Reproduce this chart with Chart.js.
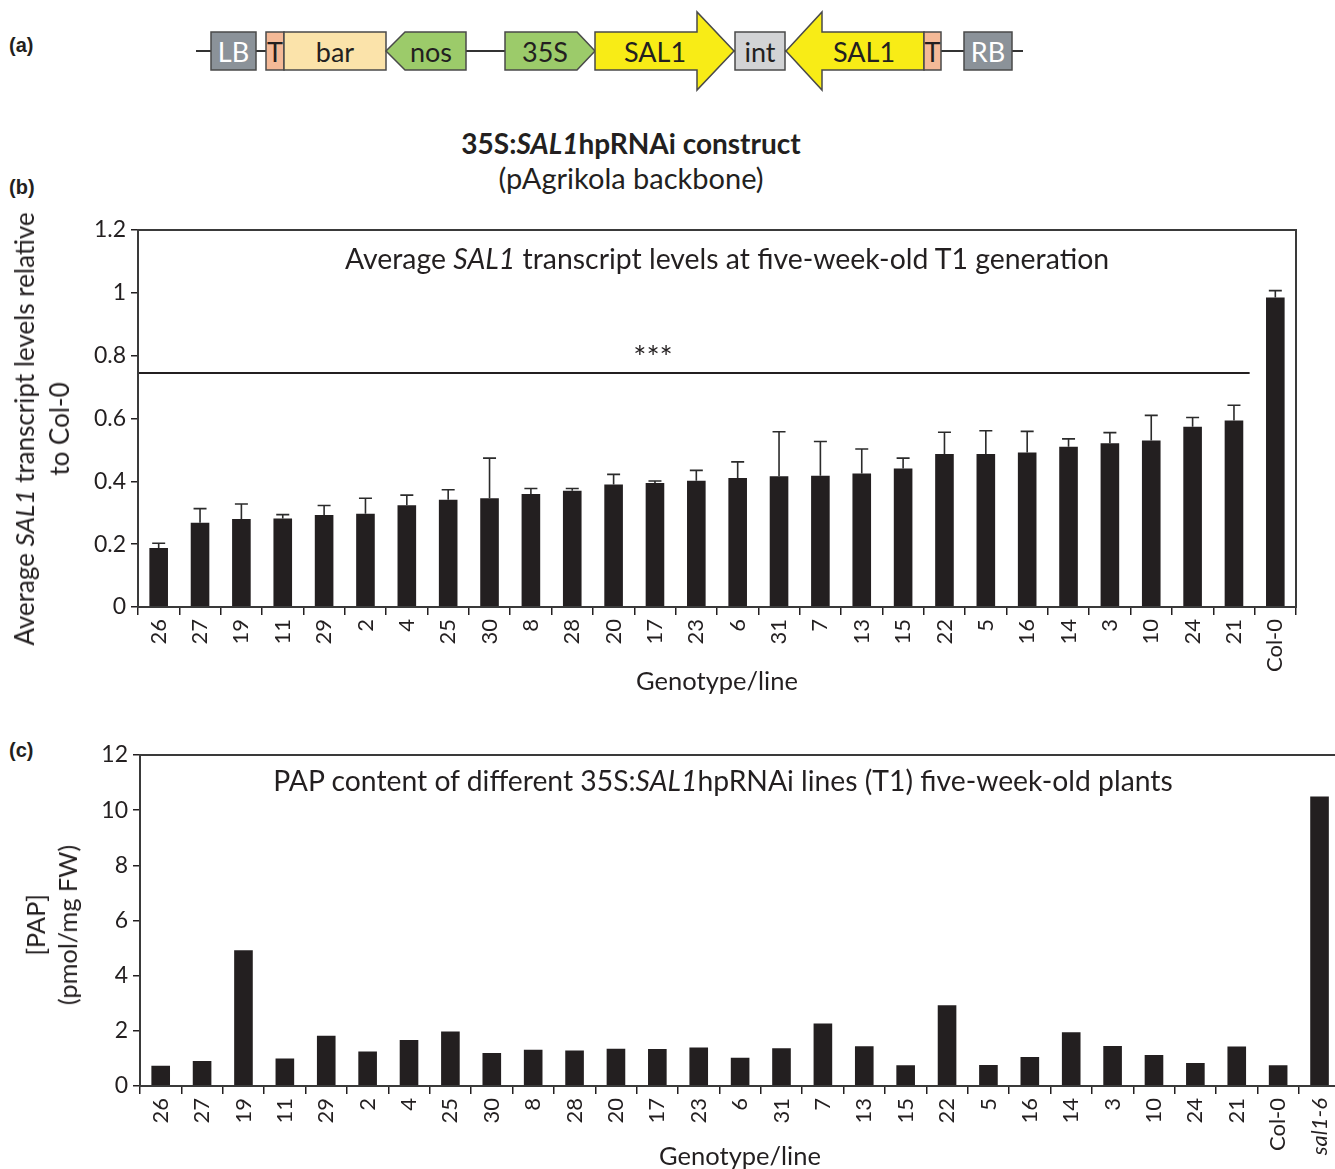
<!DOCTYPE html>
<html>
<head>
<meta charset="utf-8">
<script src="https://cdn.jsdelivr.net/npm/chart.js@4/dist/chart.umd.min.js"></script>
<style>
  html, body { margin: 0; padding: 0; width: 1335px; height: 1169px; overflow: hidden; background: #fff; }
  body { position: relative; font-family: 'Lato', 'Open Sans', sans-serif; color: #231f20; }
  .abs { position: absolute; white-space: nowrap; line-height: 1; }
  .c { transform: translate(-50%, -50%); }
  .rot { transform: translate(-50%, -50%) rotate(-90deg); text-align: center; }
  .panel { font-weight: bold; font-size: 20px; font-family: 'Liberation Sans', Arial, sans-serif; }
  #wrapB { position: absolute; left: 0; top: 200px; width: 1335px; height: 510px; }
  #wrapC { position: absolute; left: 0; top: 730px; width: 1350px; height: 439px; }
</style>
</head>
<body>

<!-- (a) construct map -->
<svg class="abs" style="left:0;top:0" width="1335" height="110" font-family="Lato, 'Open Sans', sans-serif" font-size="27">
  <line x1="196" y1="51" x2="1023" y2="51" stroke="#333" stroke-width="2"/>
  <rect x="211" y="32" width="45" height="38" fill="#8b9299" stroke="#4a4a4a" stroke-width="1.5"/>
  <rect x="266" y="32" width="18" height="38" fill="#f4b997" stroke="#4a4a4a" stroke-width="1.5"/>
  <rect x="284" y="32" width="102" height="38" fill="#fbe3aa" stroke="#4a4a4a" stroke-width="1.5"/>
  <polygon points="386,51 405,32 466,32 466,70 405,70" fill="#9ccb6a" stroke="#4a4a4a" stroke-width="1.5"/>
  <polygon points="505,32 577,32 595,51 577,70 505,70" fill="#9ccb6a" stroke="#4a4a4a" stroke-width="1.5"/>
  <polygon points="595,32 697,32 697,12 734,51 697,90 697,70 595,70" fill="#f8ec16" stroke="#4a4a4a" stroke-width="1.5"/>
  <rect x="735" y="32" width="50" height="38" fill="#d2d3d5" stroke="#4a4a4a" stroke-width="1.5"/>
  <polygon points="786,51 822,12 822,32 924,32 924,70 822,70 822,90" fill="#f8ec16" stroke="#4a4a4a" stroke-width="1.5"/>
  <rect x="924" y="32" width="17" height="38" fill="#f4b997" stroke="#4a4a4a" stroke-width="1.5"/>
  <rect x="964" y="32" width="48" height="38" fill="#8b9299" stroke="#4a4a4a" stroke-width="1.5"/>
  <g text-anchor="middle" dominant-baseline="central" fill="#231f20">
    <text x="233.5" y="51" fill="#fff">LB</text>
    <text x="275" y="51">T</text>
    <text x="335" y="51">bar</text>
    <text x="431" y="51">nos</text>
    <text x="545" y="51">35S</text>
    <text x="655" y="51">SAL1</text>
    <text x="760" y="51">int</text>
    <text x="864" y="51">SAL1</text>
    <text x="932.5" y="51">T</text>
    <text x="988" y="51" fill="#fff">RB</text>
  </g>
</svg>

<div class="abs panel" style="left:9px;top:35px">(a)</div>
<div class="abs panel" style="left:9px;top:177px">(b)</div>
<div class="abs panel" style="left:9px;top:740px">(c)</div>

<div class="abs c" style="left:631px;top:143px;font-size:28px;font-weight:bold">35S:<i>SAL1</i>hpRNAi construct</div>
<div class="abs c" style="left:631px;top:177px;font-size:29px">(pAgrikola backbone)</div>

<div id="wrapB"><canvas id="chartB"></canvas></div>
<div id="wrapC"><canvas id="chartC"></canvas></div>

<!-- panel (b) text -->
<div class="abs c" style="left:727px;top:258px;font-size:28.4px">Average <i>SAL1</i> transcript levels at five-week-old T1 generation</div>
<div class="abs rot" style="left:42px;top:429px;font-size:26px;line-height:35px">Average <i>SAL1</i> transcript levels relative<br>to Col-0</div>
<div class="abs c" style="left:717px;top:681px;font-size:25.5px">Genotype/line</div>

<!-- panel (c) text -->
<div class="abs c" style="left:723px;top:780px;font-size:28.3px">PAP content of different 35S:<i>SAL1</i>hpRNAi lines (T1) five-week-old plants</div>
<div class="abs rot" style="left:51px;top:925px;font-size:25.3px;line-height:32px">[PAP]<br>(pmol/mg FW)</div>
<div class="abs c" style="left:740px;top:1156px;font-size:25.5px">Genotype/line</div>

<script>
// ---- panel (b): SAL1 transcript levels relative to Col-0 ----
const linesB = ['26','27','19','11','29','2','4','25','30','8','28','20','17','23','6','31','7','13','15','22','5','16','14','3','10','24','21','Col-0'];
const sal1Level = [0.188,0.268,0.280,0.282,0.293,0.297,0.324,0.341,0.346,0.360,0.370,0.390,0.395,0.402,0.411,0.416,0.418,0.425,0.441,0.487,0.487,0.492,0.510,0.521,0.530,0.574,0.594,0.985];
const sal1Err   = [0.015,0.045,0.048,0.012,0.030,0.049,0.032,0.032,0.128,0.017,0.007,0.032,0.006,0.033,0.051,0.142,0.109,0.078,0.033,0.069,0.074,0.067,0.025,0.034,0.080,0.029,0.048,0.022];
const yTicksB = [0, 0.2, 0.4, 0.6, 0.8, 1, 1.2];
const sigLevel = 0.745;     // bracket height for the *** comparison
const sigLabel = '***';

// ---- panel (c): PAP content ----
const linesC = ['26','27','19','11','29','2','4','25','30','8','28','20','17','23','6','31','7','13','15','22','5','16','14','3','10','24','21','Col-0','sal1-6'];
const papContent = [0.73,0.91,4.92,1.00,1.82,1.25,1.67,1.98,1.20,1.31,1.29,1.35,1.34,1.40,1.02,1.37,2.27,1.44,0.75,2.93,0.76,1.05,1.95,1.45,1.12,0.83,1.43,0.75,10.5];
const yTicksC = [0, 2, 4, 6, 8, 10, 12];

const INK = '#231f20';
const FONT = "Lato, 'Open Sans', sans-serif";
Chart.defaults.font.family = FONT;
Chart.defaults.color = INK;

// frame around the plotting area
const framePlugin = {
  id: 'frame',
  afterDraw(chart) {
    const a = chart.chartArea, ctx = chart.ctx;
    ctx.save();
    ctx.strokeStyle = '#3a3a3a';
    ctx.lineWidth = 2;
    ctx.strokeRect(a.left, a.top, a.right - a.left, a.bottom - a.top);
    ctx.restore();
  }
};

// upper error bars for panel (b)
const errorBarPlugin = {
  id: 'errorBars',
  afterDatasetsDraw(chart) {
    const meta = chart.getDatasetMeta(0);
    const y = chart.scales.y, ctx = chart.ctx;
    ctx.save();
    ctx.strokeStyle = '#2b2b2b';
    ctx.lineWidth = 1.6;
    meta.data.forEach((bar, i) => {
      const y0 = y.getPixelForValue(sal1Level[i]);
      const y1 = y.getPixelForValue(sal1Level[i] + sal1Err[i]);
      ctx.beginPath();
      ctx.moveTo(bar.x, y0); ctx.lineTo(bar.x, y1);
      ctx.moveTo(bar.x - 6.5, y1); ctx.lineTo(bar.x + 6.5, y1);
      ctx.stroke();
    });
    ctx.restore();
  }
};

// significance bracket across the transgenic lines
const sigPlugin = {
  id: 'sig',
  afterDatasetsDraw(chart) {
    const x = chart.scales.x, y = chart.scales.y, ctx = chart.ctx;
    const yy = y.getPixelForValue(sigLevel);
    const xEnd = (x.getPixelForValue(linesB.length - 2) + x.getPixelForValue(linesB.length - 1)) / 2 - 5;
    ctx.save();
    ctx.strokeStyle = INK;
    ctx.lineWidth = 2;
    ctx.beginPath();
    ctx.moveTo(chart.chartArea.left, yy);
    ctx.lineTo(xEnd, yy);
    ctx.stroke();
    ctx.fillStyle = INK;
    ctx.font = '31px ' + FONT;
    ctx.textAlign = 'center';
    ctx.textBaseline = 'middle';
    ctx.fillText(sigLabel, x.getPixelForValue(12) - 2, yy - 15);
    ctx.restore();
  }
};

function axisX(height, italicLast) {
  return {
    type: 'category',
    offset: true,
    grid: { offset: true, drawOnChartArea: false, drawTicks: true, tickLength: 8, color: INK, lineWidth: 1.5 },
    border: { display: true, color: INK, width: 2 },
    ticks: {
      autoSkip: false, maxRotation: 90, minRotation: 90, padding: 4, color: INK,
      font: (ctx) => ({ size: 22, family: FONT, style: (italicLast && ctx.index === linesC.length - 1) ? 'italic' : 'normal' })
    },
    afterFit(scale) { scale.height = height; }
  };
}

function axisY(ticksArr, width) {
  return {
    min: ticksArr[0], max: ticksArr[ticksArr.length - 1],
    grid: { drawOnChartArea: false, drawTicks: true, tickLength: 7, color: INK, lineWidth: 1.5 },
    border: { display: true, color: INK, width: 2 },
    afterBuildTicks(axis) { axis.ticks = ticksArr.map(v => ({ value: v })); },
    ticks: { font: { size: 23, family: FONT }, color: INK, padding: 5, callback: v => String(v) },
    afterFit(scale) { scale.width = width; }
  };
}

new Chart(document.getElementById('chartB'), {
  type: 'bar',
  data: {
    labels: linesB,
    datasets: [{ data: sal1Level, backgroundColor: INK, borderWidth: 0, categoryPercentage: 1, barPercentage: 0.45 }]
  },
  options: {
    responsive: true, maintainAspectRatio: false, animation: false,
    layout: { padding: { top: 30, right: 39, left: 0, bottom: 0 } },
    plugins: { legend: { display: false }, tooltip: { enabled: false } },
    scales: { x: axisX(103, false), y: axisY(yTicksB, 138) }
  },
  plugins: [framePlugin, errorBarPlugin, sigPlugin]
});

new Chart(document.getElementById('chartC'), {
  type: 'bar',
  data: {
    labels: linesC,
    datasets: [{ data: papContent, backgroundColor: INK, borderWidth: 0, categoryPercentage: 1, barPercentage: 0.45 }]
  },
  options: {
    responsive: true, maintainAspectRatio: false, animation: false,
    layout: { padding: { top: 25, right: 4, left: 0, bottom: 0 } },
    plugins: { legend: { display: false }, tooltip: { enabled: false } },
    scales: { x: axisX(83, true), y: axisY(yTicksC, 140) }
  },
  plugins: [framePlugin]
});
</script>
</body>
</html>
